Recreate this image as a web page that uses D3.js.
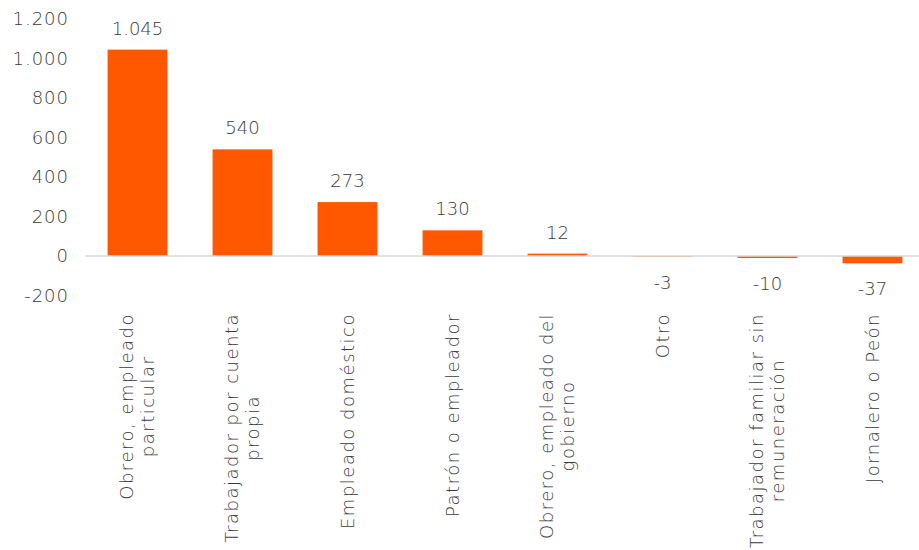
<!DOCTYPE html>
<html><head><meta charset="utf-8">
<script src="https://cdn.jsdelivr.net/npm/d3@7"></script>
<style>
body{margin:0;background:#fff;}
text{font-family:"DejaVu Sans",sans-serif;font-weight:200;fill:#3a3a3a;}
</style></head>
<body><svg id="c" width="919" height="550"></svg>
<script>
const categories = [
  ["Obrero, empleado","particular"],
  ["Trabajador por cuenta","propia"],
  ["Empleado doméstico"],
  ["Patrón o empleador"],
  ["Obrero, empleado del","gobierno"],
  ["Otro"],
  ["Trabajador familiar sin","remuneración"],
  ["Jornalero o Peón"]
];
const values = [1045, 540, 273, 130, 12, -3, -10, -37];
const yTicks = [-200, 0, 200, 400, 600, 800, 1000, 1200];

const loc = d3.formatLocale({decimal:",", thousands:".", grouping:[3], currency:["",""], minus:"-"});
const fmt = loc.format(",d");

const svg = d3.select("#c");
const x = d3.scaleBand().domain(d3.range(categories.length)).range([85, 925]).paddingInner(0.43).paddingOuter(0.215);
const y = d3.scaleLinear().domain([-200, 1200]).range([295.5, 19]);

// y axis labels
const yAxis = d3.axisLeft(y).tickValues(yTicks).tickFormat(fmt).tickSize(0).tickPadding(0);
const ga = svg.append("g").attr("transform","translate(69,0)").call(yAxis);
ga.select(".domain").remove();
ga.selectAll("text").attr("font-size",18).attr("font-family","DejaVu Sans").attr("fill","#3a3a3a")
  .attr("letter-spacing","1px");

// bars
svg.selectAll("rect.bar").data(values).join("rect").attr("class","bar")
  .attr("x",(d,i)=>x(i)).attr("width",x.bandwidth())
  .attr("y",d=>y(Math.max(0,d))).attr("height",d=>Math.abs(y(d)-y(0)))
  .attr("fill","#FF5800");

// zero line
svg.append("line").attr("x1",85).attr("x2",919).attr("y1",y(0)).attr("y2",y(0))
  .attr("stroke","#d9d9d9").attr("stroke-width",1.5);

// value labels
svg.selectAll("text.val").data(values).join("text").attr("class","val")
  .attr("x",(d,i)=>x(i)+x.bandwidth()/2)
  .attr("y",d=> d>=0 ? y(d)-15 : y(d)+32)
  .attr("text-anchor","middle").attr("font-size",18).text(d=>fmt(d));

// category labels
const topY = 313, lh = 21;
categories.forEach((lines,i)=>{
  const g = svg.append("g");
  const ts = lines.map((t,j)=>g.append("text").attr("text-anchor","middle").attr("font-size",18)
      .attr("letter-spacing","1.5px")
      .attr("x",0).attr("y",(j-(lines.length-1)/2)*lh).attr("dy","0.35em").text(t));
  const maxLen = d3.max(ts,t=>t.node().getComputedTextLength());
  g.attr("transform",`translate(${x(i)+x.bandwidth()/2},${topY+maxLen/2}) rotate(-90)`);
});
</script></body></html>
